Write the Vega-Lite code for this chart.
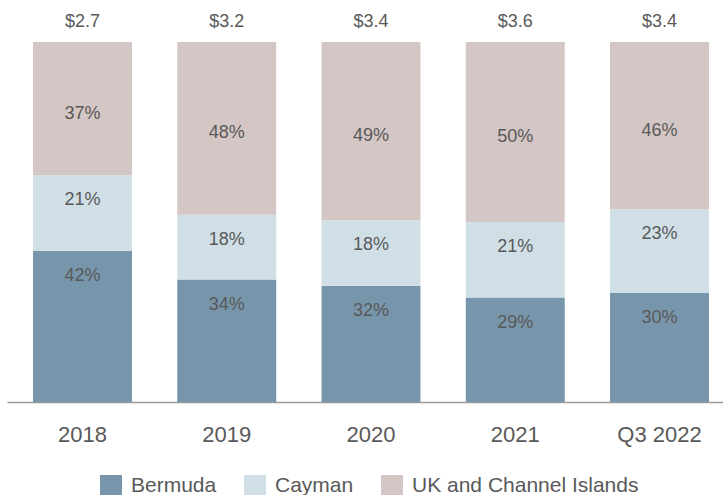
{
  "$schema": "https://vega.github.io/schema/vega-lite/v6.json",
  "width": 716,
  "height": 360,
  "autosize": {"type": "none"},
  "padding": {"left": 7, "top": 42, "right": 0, "bottom": 93},
  "config": {
    "view": {"stroke": null},
    "font": "Liberation Sans",
    "text": {"font": "Liberation Sans", "color": "#595959"}
  },
  "datasets": {
    "shares": [
      {"year": "2018", "region": "Bermuda", "share": 0.42},
      {"year": "2018", "region": "Cayman", "share": 0.21},
      {"year": "2018", "region": "UK and Channel Islands", "share": 0.37},
      {"year": "2019", "region": "Bermuda", "share": 0.34},
      {"year": "2019", "region": "Cayman", "share": 0.18},
      {"year": "2019", "region": "UK and Channel Islands", "share": 0.48},
      {"year": "2020", "region": "Bermuda", "share": 0.32},
      {"year": "2020", "region": "Cayman", "share": 0.18},
      {"year": "2020", "region": "UK and Channel Islands", "share": 0.49},
      {"year": "2021", "region": "Bermuda", "share": 0.29},
      {"year": "2021", "region": "Cayman", "share": 0.21},
      {"year": "2021", "region": "UK and Channel Islands", "share": 0.50},
      {"year": "Q3 2022", "region": "Bermuda", "share": 0.30},
      {"year": "Q3 2022", "region": "Cayman", "share": 0.23},
      {"year": "Q3 2022", "region": "UK and Channel Islands", "share": 0.46}
    ],
    "totals": [
      {"year": "2018", "total": "$2.7"},
      {"year": "2019", "total": "$3.2"},
      {"year": "2020", "total": "$3.4"},
      {"year": "2021", "total": "$3.6"},
      {"year": "Q3 2022", "total": "$3.4"}
    ]
  },
  "data": {"name": "shares"},
  "transform": [
    {"calculate": "indexof(['Bermuda','Cayman','UK and Channel Islands'], datum.region)", "as": "ord"},
    {"stack": "share", "groupby": ["year"], "sort": [{"field": "ord", "order": "ascending"}], "offset": "normalize", "as": ["y0", "y1"]},
    {"calculate": "(datum.y0 + datum.y1) / 2", "as": "ymid"}
  ],
  "encoding": {
    "x": {
      "field": "year",
      "type": "nominal",
      "title": null,
      "scale": {"paddingInner": 0.314, "paddingOuter": 0.1386, "align": 0.65},
      "axis": {
        "labelAngle": 0,
        "labelFontSize": 22,
        "labelColor": "#595959",
        "labelFont": "Liberation Sans",
        "labelPadding": 22,
        "ticks": false,
        "domainColor": "#9a9a9a",
        "domainWidth": 1.5
      }
    }
  },
  "layer": [
    {
      "mark": {"type": "bar"},
      "encoding": {
        "y": {"field": "y0", "type": "quantitative", "scale": {"domain": [0, 1]}, "axis": null},
        "y2": {"field": "y1"},
        "color": {
          "field": "region",
          "type": "nominal",
          "sort": ["Bermuda", "Cayman", "UK and Channel Islands"],
          "scale": {
            "domain": ["Bermuda", "Cayman", "UK and Channel Islands"],
            "range": ["#7896ab", "#d0dfe6", "#d3c6c4"]
          },
          "legend": {
            "title": null,
            "orient": "none",
            "direction": "horizontal",
            "legendX": 93,
            "legendY": 433,
            "symbolType": "square",
            "symbolSize": 484,
            "symbolStrokeWidth": 0,
            "symbolOpacity": 1,
            "labelFontSize": 21,
            "labelColor": "#595959",
            "labelFont": "Liberation Sans",
            "labelOffset": 9,
            "labelLimit": 400,
            "columnPadding": 27
          }
        }
      }
    },
    {
      "transform": [{"filter": "datum.region !== 'UK and Channel Islands'"}],
      "mark": {"type": "text", "fontSize": 18, "dy": 25, "baseline": "middle"},
      "encoding": {
        "y": {"field": "y1", "type": "quantitative"},
        "text": {"field": "share", "type": "quantitative", "format": ".0%"}
      }
    },
    {
      "transform": [{"filter": "datum.region === 'UK and Channel Islands'"}],
      "mark": {"type": "text", "fontSize": 18, "dy": 5, "baseline": "middle"},
      "encoding": {
        "y": {"field": "ymid", "type": "quantitative"},
        "text": {"field": "share", "type": "quantitative", "format": ".0%"}
      }
    },
    {
      "data": {"name": "totals"},
      "transform": [],
      "mark": {"type": "text", "fontSize": 18, "dy": -20, "baseline": "middle"},
      "encoding": {
        "y": {"datum": 1, "type": "quantitative"},
        "text": {"field": "total", "type": "nominal"}
      }
    }
  ]
}
